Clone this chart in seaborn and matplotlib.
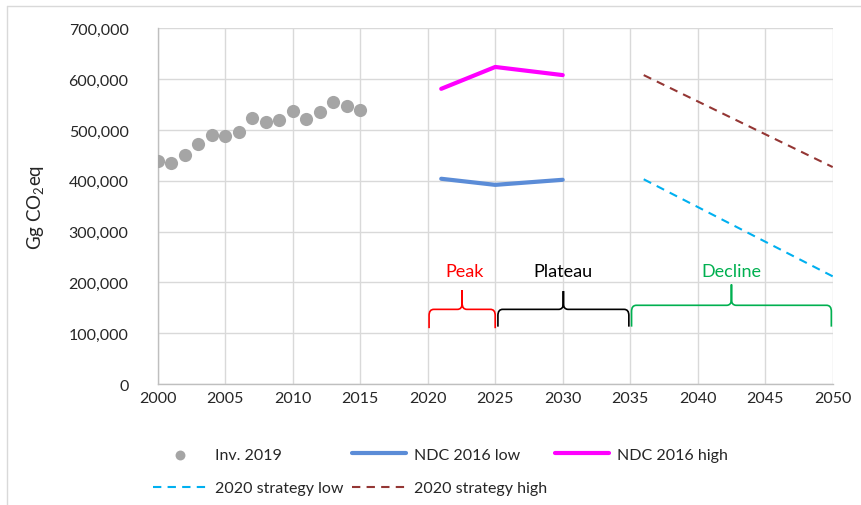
import numpy as np
import pandas as pd
import seaborn as sns
import matplotlib.pyplot as plt
from matplotlib.path import Path
from matplotlib.patches import PathPatch
from matplotlib.lines import Line2D
from matplotlib.ticker import FuncFormatter, MultipleLocator

# inventory 2019 (Gg CO2eq)
inv_years = [2000, 2001, 2002, 2003, 2004, 2005, 2006, 2007,
             2008, 2009, 2010, 2011, 2012, 2013, 2014, 2015]
inv_values = [438000, 436000, 450000, 473000, 490000, 488000, 496000, 523000,
              515000, 520000, 538000, 522000, 535000, 555000, 548000, 540000]

# NDC 2016 scenarios
ndc_years = [2021, 2025, 2030]
ndc_low = [404000, 392000, 402000]
ndc_high = [581000, 624000, 608000]

# 2020 strategy
strat_years = [2036, 2050]
strat_low = [403000, 212000]
strat_high = [608000, 427000]

# phases (braces)
phase_labels = ["Peak", "Plateau", "Decline"]
phase_start = [2020.1, 2025.2, 2035.1]
phase_end = [2025.0, 2034.9, 2049.9]
phase_bar = [147000, 147000, 155000]
phase_tip = [185000, 183000, 196000]
phase_base = [110000, 113000, 113000]
phase_colors = ["#FF0000", "#000000", "#00B050"]

sns.set_style("white")
plt.rcParams["font.family"] = ["Lato", "DejaVu Sans"]
plt.rcParams["mathtext.default"] = "regular"

fig = plt.figure(figsize=(8.62, 5.06), dpi=100)
ax = fig.add_axes([0.183, 0.239, 0.783, 0.703])

grid_c = "#D9D9D9"

sns.scatterplot(x=inv_years, y=inv_values, ax=ax, color="#A5A5A5", s=90,
                linewidth=0, label="Inv. 2019", zorder=3)
sns.lineplot(x=ndc_years, y=ndc_low, ax=ax, color="#5B8CD7", linewidth=3,
             label="NDC 2016 low", zorder=3)
sns.lineplot(x=ndc_years, y=ndc_high, ax=ax, color="#FF00FF", linewidth=3,
             label="NDC 2016 high", zorder=3)
sns.lineplot(x=strat_years, y=strat_low, ax=ax, color="#00B0F0", linewidth=1.5,
             linestyle=(0, (4, 3)), label="2020 strategy low", zorder=3)
sns.lineplot(x=strat_years, y=strat_high, ax=ax, color="#943634", linewidth=1.5,
             linestyle=(0, (4, 3)), label="2020 strategy high", zorder=3)


def brace(ax, x0, x1, base, bar, tip, color):
    rx, ry = 0.35, 12000
    xm = (x0 + x1) / 2
    verts = [(x0, base), (x0, bar - ry), (x0, bar), (x0 + rx, bar),
             (xm - rx, bar), (xm, bar), (xm, bar + ry), (xm, tip),
             (xm, bar + ry), (xm, bar), (xm + rx, bar),
             (x1 - rx, bar), (x1, bar), (x1, bar - ry), (x1, base)]
    codes = [Path.MOVETO, Path.LINETO, Path.CURVE3, Path.CURVE3,
             Path.LINETO, Path.CURVE3, Path.CURVE3, Path.LINETO,
             Path.LINETO, Path.CURVE3, Path.CURVE3,
             Path.LINETO, Path.CURVE3, Path.CURVE3, Path.LINETO]
    ax.add_patch(PathPatch(Path(verts, codes), fill=False, edgecolor=color,
                           linewidth=1.2, zorder=3))


for lab, s, e, b, t, base, c in zip(phase_labels, phase_start, phase_end,
                                    phase_bar, phase_tip, phase_base, phase_colors):
    brace(ax, s, e, base, b, t, c)
    xm = (s + e) / 2
    if lab == "Peak":
        xm = 2022.7
    ax.text(xm, 222000, lab, color=c, fontsize=13, ha="center", va="center")

ax.set_xlim(2000, 2050)
ax.set_ylim(0, 700000)
ax.xaxis.set_major_locator(MultipleLocator(5))
ax.yaxis.set_major_locator(MultipleLocator(100000))
ax.yaxis.set_major_formatter(FuncFormatter(lambda v, p: f"{v:,.0f}"))
ax.grid(True, color=grid_c, linewidth=1)
ax.set_axisbelow(True)
for side in ["top", "right"]:
    ax.spines[side].set_visible(False)
for side in ["left", "bottom"]:
    ax.spines[side].set_color("#BFBFBF")
    ax.spines[side].set_linewidth(1)
ax.tick_params(axis="y", length=0, pad=21, labelsize=11.5)
ax.tick_params(axis="x", length=0, pad=5, labelsize=11.5)
ax.set_xlabel("")
ax.set_ylabel("Gg CO$_2$eq", fontsize=13.5)
ax.yaxis.set_label_coords(-0.165, 0.5)

handles, labels = ax.get_legend_handles_labels()
ax.get_legend().remove()
order = [0, 3, 1, 4, 2]
fig.legend([handles[i] for i in order], [labels[i] for i in order],
           loc="upper left", bbox_to_anchor=(0.1775, 0.1136), ncol=3,
           frameon=False, fontsize=11.5, handlelength=3.4, handletextpad=0.5,
           columnspacing=0.5, labelspacing=1.22, borderpad=0, borderaxespad=0,
           markerscale=0.75)

# outer frame edge lines
fig.add_artist(Line2D([7 / 862, 1], [1 - 7 / 506, 1 - 7 / 506], color=grid_c,
                      linewidth=1, transform=fig.transFigure))
fig.add_artist(Line2D([7 / 862, 7 / 862], [0, 1 - 7 / 506], color=grid_c,
                      linewidth=1, transform=fig.transFigure))

fig.savefig("out.png", dpi=100)
